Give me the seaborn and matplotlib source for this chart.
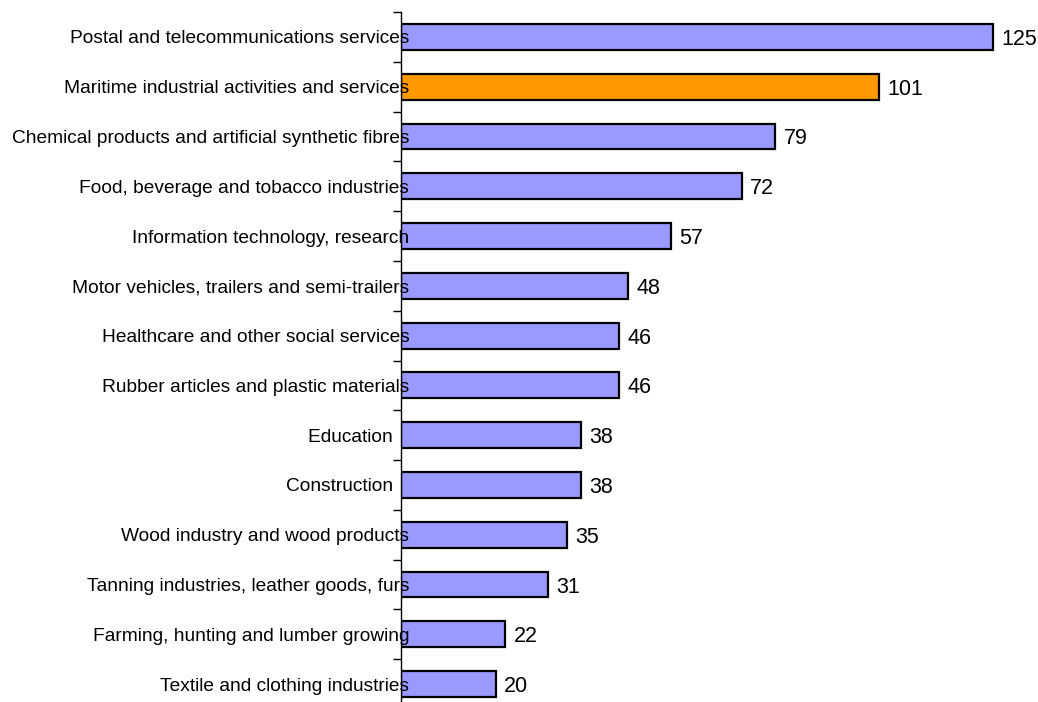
import matplotlib
matplotlib.use("Agg")
import matplotlib.pyplot as plt
import numpy as np
import pandas as pd
import seaborn as sns

sns.set_style("white")
plt.rcParams["font.family"] = ["Liberation Sans", "DejaVu Sans"]
plt.rcParams["text.color"] = "black"
plt.rcParams["ytick.color"] = "black"

# data
sectors = [
    "Postal and telecommunications services",
    "Maritime industrial activities and services",
    "Chemical products and artificial synthetic fibres",
    "Food, beverage and tobacco industries",
    "Information technology, research",
    "Motor vehicles, trailers and semi-trailers",
    "Healthcare and other social services",
    "Rubber articles and plastic materials",
    "Education   ",
    "Construction   ",
    "Wood industry and wood products",
    "Tanning industries, leather goods, furs",
    "Farming, hunting and lumber growing",
    "Textile and clothing industries",
]
values = [125, 101, 79, 72, 57, 48, 46, 46, 38, 38, 35, 31, 22, 20]
highlight = "Maritime industrial activities and services"

df = pd.DataFrame({"sector": sectors, "value": values})
palette = {s: ("#FF9900" if s == highlight else "#9999FF") for s in sectors}

fig = plt.figure(figsize=(10.38, 7.02), dpi=100)
# axes box: left edge at the category axis, bottom runs just past the figure
ax = fig.add_axes([401 / 1038, 1 - 709 / 702, 639 / 1038, (709 - 12) / 702])

sns.barplot(
    df,
    x="value",
    y="sector",
    hue="sector",
    palette=palette,
    saturation=1,
    orient="h",
    width=0.52,
    edgecolor="black",
    linewidth=1.6,
    legend=False,
    ax=ax,
)

ax.set_xlim(0, 135)
ax.set_ylim(len(sectors) - 0.5, -0.5)
ax.set(xlabel="", ylabel="")
ax.set_axisbelow(False)

for spine in ["top", "right", "bottom"]:
    ax.spines[spine].set_visible(False)
ax.spines["left"].set_color("black")
ax.spines["left"].set_linewidth(1)
ax.set_xticks([])

# category labels sit on the axis, ticks at the category boundaries
ax.set_yticks(range(len(sectors)))
ax.set_yticklabels(sectors, fontsize=13.8, color="black")
ax.tick_params(axis="y", which="major", length=0, pad=-6)
ax.set_yticks(np.arange(-0.5, len(sectors), 1), minor=True)
ax.tick_params(axis="y", which="minor", left=True, length=6, width=1, color="black")

for i, v in enumerate(values):
    ax.text(v + 1.8, i, f"{v}", va="center_baseline", ha="left", fontsize=15.5, color="black")

fig.savefig("out.png", dpi=100)
